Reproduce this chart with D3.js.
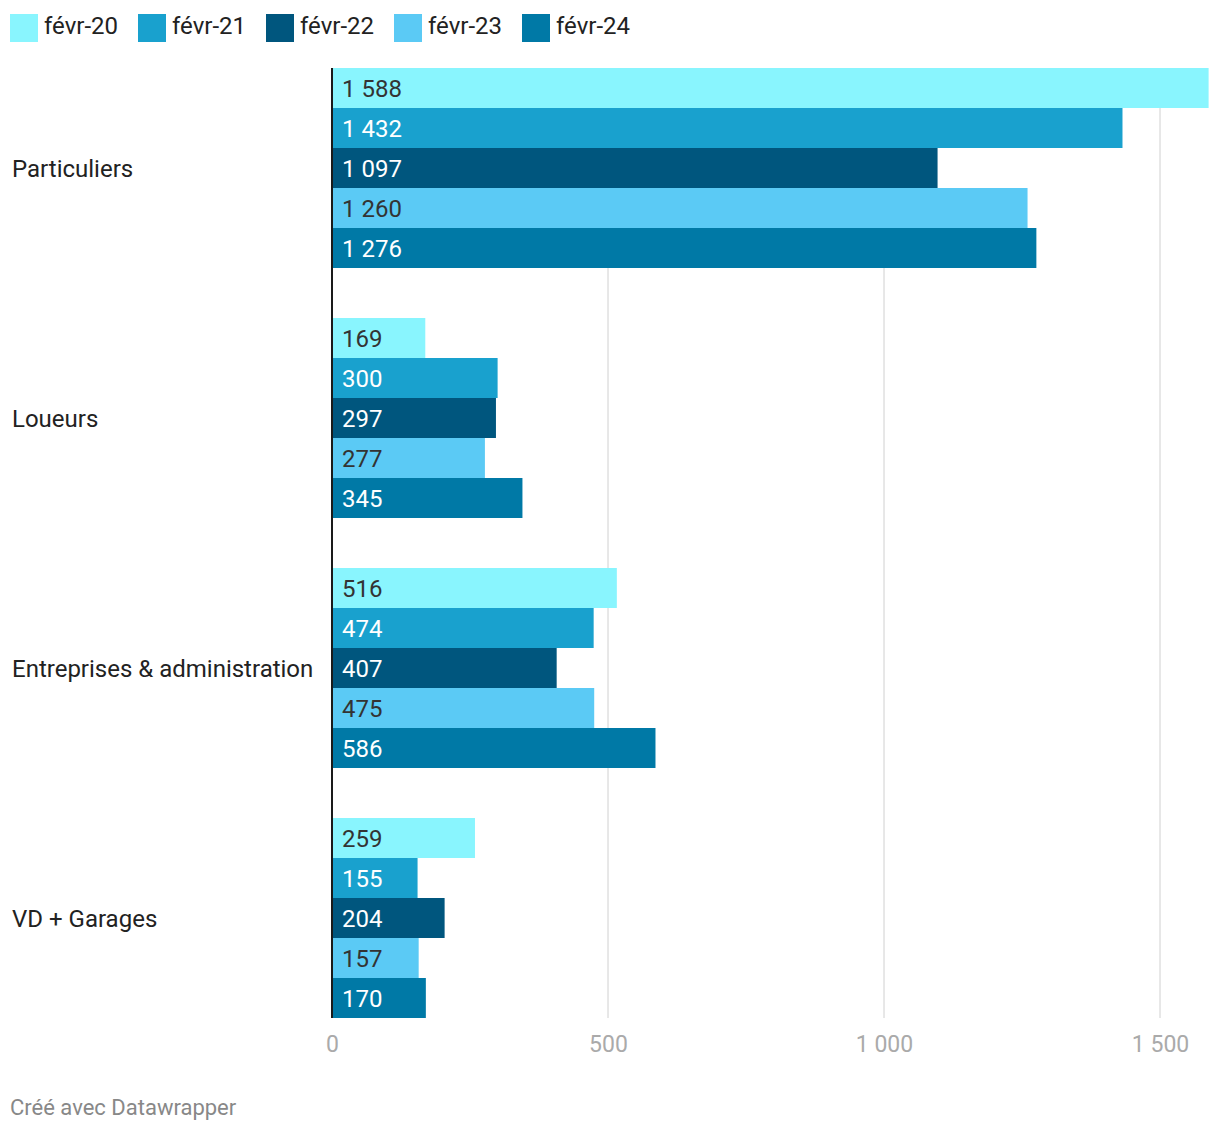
<!DOCTYPE html>
<html><head><meta charset="utf-8">
<script src="https://cdn.jsdelivr.net/npm/d3@7"></script>
<style>
body{margin:0;background:#fff;font-family:Roboto,"Noto Sans",sans-serif;}
</style></head>
<body>
<svg id="chart" width="1220" height="1132"></svg>
<script>
const categories = ["Particuliers","Loueurs","Entreprises & administration","VD + Garages"];
const seriesNames = ["févr-20","févr-21","févr-22","févr-23","févr-24"];
const seriesColors = ["#89F5FE","#19A1CE","#00567E","#5BCAF5","#0079A6"];
const labelColors = ["#333333","#ffffff","#ffffff","#333333","#ffffff"];
const v20 = [1588,169,516,259];
const v21 = [1432,300,474,155];
const v22 = [1097,297,407,204];
const v23 = [1260,277,475,157];
const v24 = [1276,345,586,170];
const values = [v20,v21,v22,v23,v24];
const ticks = [0,500,1000,1500];

(function(){
const fr = d3.formatLocale({decimal:",",thousands:" ",grouping:[3],currency:["","€"]});
const fmt = fr.format(",d");

const svg = d3.select("#chart");
const mLeft = 332, mRight = 1208.6, mTop = 68, mBottom = 1018;

const x = d3.scaleLinear().domain([0,1588]).range([mLeft,mRight]);
const y0 = d3.scaleBand().domain(categories).range([mTop,mBottom+50]).paddingInner(0).paddingOuter(0);
const y1 = d3.scaleBand().domain(seriesNames).range([0,200]);

// legend
const legend = svg.append("g");
const legX = [10,138,266,394,522];
seriesNames.forEach((s,i)=>{
  const g = legend.append("g").attr("transform",`translate(${legX[i]},14)`);
  g.append("rect").attr("width",28).attr("height",28).attr("fill",seriesColors[i]);
  g.append("text").attr("x",34).attr("y",12).attr("dy","0.35em")
    .attr("font-size",24).attr("fill","#222").text(s);
});

// grid
svg.append("g").selectAll("line").data(ticks.filter(t=>t>0)).join("line")
  .attr("x1",d=>x(d)).attr("x2",d=>x(d)).attr("y1",mTop).attr("y2",mBottom)
  .attr("stroke","#e0e0e0").attr("stroke-width",1.5);

// tick labels
const xAxis = d3.axisBottom(x).tickValues(ticks).tickFormat(fmt).tickSize(0).tickPadding(0);
const ax = svg.append("g").attr("transform",`translate(0,${mBottom+18})`).call(xAxis);
ax.select(".domain").remove();
ax.selectAll("text").attr("font-size",23).attr("fill","#aaaaaa").attr("font-family","Roboto,sans-serif").attr("dy","0.71em");

// bars
categories.forEach((c,ci)=>{
  const g = svg.append("g").attr("transform",`translate(0,${y0(c)})`);
  seriesNames.forEach((s,si)=>{
    const v = values[si][ci];
    g.append("rect").attr("x",x(0)).attr("y",y1(s)).attr("width",x(v)-x(0)).attr("height",y1.bandwidth())
      .attr("fill",seriesColors[si]);
    g.append("text").attr("x",x(0)+10).attr("y",y1(s)+y1.bandwidth()/2).attr("dy","0.36em")
      .attr("font-size",24).attr("fill",labelColors[si]).text(fmt(v));
  });
  g.append("text").attr("x",12).attr("y",100).attr("dy","0.36em")
    .attr("font-size",24).attr("fill","#222").text(c);
});

// axis line
svg.append("line").attr("x1",x(0)).attr("x2",x(0)).attr("y1",mTop).attr("y2",mBottom)
  .attr("stroke","#1a1a1a").attr("stroke-width",2);

// footer
svg.append("text").attr("x",10).attr("y",1107).attr("dy","0.35em").attr("font-size",22)
  .attr("fill","#888").text("Créé avec Datawrapper");
})();
</script>
</body></html>
